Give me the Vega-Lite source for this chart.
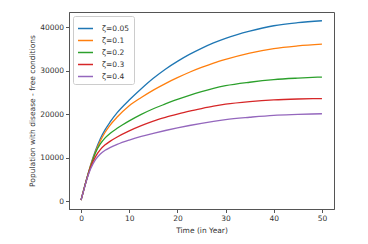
{
  "$schema": "https://vega.github.io/schema/vega-lite/v6.json",
  "width": 265,
  "height": 197,
  "autosize": "none",
  "padding": {"left": 69, "top": 12, "right": 34, "bottom": 35},
  "background": "white",
  "config": {
    "view": {"stroke": "#555", "strokeWidth": 1},
    "font": "DejaVu Sans"
  },
  "data": {"values": [
    {"t":0,"z":"ζ=0.05","y":300},{"t":0.5,"z":"ζ=0.05","y":2400},{"t":1,"z":"ζ=0.05","y":4500},{"t":1.5,"z":"ζ=0.05","y":6500},{"t":2,"z":"ζ=0.05","y":8400},{"t":3,"z":"ζ=0.05","y":11700},{"t":4,"z":"ζ=0.05","y":14400},{"t":5,"z":"ζ=0.05","y":16500},{"t":6,"z":"ζ=0.05","y":18200},{"t":7.5,"z":"ζ=0.05","y":20400},{"t":10,"z":"ζ=0.05","y":23300},{"t":12.5,"z":"ζ=0.05","y":25900},{"t":15,"z":"ζ=0.05","y":28300},{"t":17.5,"z":"ζ=0.05","y":30400},{"t":20,"z":"ζ=0.05","y":32200},{"t":22.5,"z":"ζ=0.05","y":33800},{"t":25,"z":"ζ=0.05","y":35200},{"t":27.5,"z":"ζ=0.05","y":36450},{"t":30,"z":"ζ=0.05","y":37500},{"t":35,"z":"ζ=0.05","y":39150},{"t":40,"z":"ζ=0.05","y":40400},{"t":45,"z":"ζ=0.05","y":41100},{"t":50,"z":"ζ=0.05","y":41550},
    {"t":0,"z":"ζ=0.1","y":300},{"t":0.5,"z":"ζ=0.1","y":2400},{"t":1,"z":"ζ=0.1","y":4480},{"t":1.5,"z":"ζ=0.1","y":6450},{"t":2,"z":"ζ=0.1","y":8300},{"t":3,"z":"ζ=0.1","y":11400},{"t":4,"z":"ζ=0.1","y":13900},{"t":5,"z":"ζ=0.1","y":15900},{"t":6,"z":"ζ=0.1","y":17500},{"t":7.5,"z":"ζ=0.1","y":19400},{"t":10,"z":"ζ=0.1","y":22000},{"t":12.5,"z":"ζ=0.1","y":23900},{"t":15,"z":"ζ=0.1","y":25600},{"t":17.5,"z":"ζ=0.1","y":27100},{"t":20,"z":"ζ=0.1","y":28450},{"t":22.5,"z":"ζ=0.1","y":29700},{"t":25,"z":"ζ=0.1","y":30800},{"t":27.5,"z":"ζ=0.1","y":31800},{"t":30,"z":"ζ=0.1","y":32650},{"t":35,"z":"ζ=0.1","y":34100},{"t":40,"z":"ζ=0.1","y":35150},{"t":45,"z":"ζ=0.1","y":35750},{"t":50,"z":"ζ=0.1","y":36150},
    {"t":0,"z":"ζ=0.2","y":300},{"t":0.5,"z":"ζ=0.2","y":2400},{"t":1,"z":"ζ=0.2","y":4450},{"t":1.5,"z":"ζ=0.2","y":6350},{"t":2,"z":"ζ=0.2","y":8100},{"t":3,"z":"ζ=0.2","y":11200},{"t":4,"z":"ζ=0.2","y":13200},{"t":5,"z":"ζ=0.2","y":14600},{"t":6,"z":"ζ=0.2","y":15600},{"t":7.5,"z":"ζ=0.2","y":16800},{"t":10,"z":"ζ=0.2","y":18500},{"t":12.5,"z":"ζ=0.2","y":20000},{"t":15,"z":"ζ=0.2","y":21300},{"t":17.5,"z":"ζ=0.2","y":22400},{"t":20,"z":"ζ=0.2","y":23450},{"t":22.5,"z":"ζ=0.2","y":24400},{"t":25,"z":"ζ=0.2","y":25250},{"t":27.5,"z":"ζ=0.2","y":26000},{"t":30,"z":"ζ=0.2","y":26600},{"t":35,"z":"ζ=0.2","y":27400},{"t":40,"z":"ζ=0.2","y":28000},{"t":45,"z":"ζ=0.2","y":28350},{"t":50,"z":"ζ=0.2","y":28600},
    {"t":0,"z":"ζ=0.3","y":300},{"t":0.5,"z":"ζ=0.3","y":2350},{"t":1,"z":"ζ=0.3","y":4400},{"t":1.5,"z":"ζ=0.3","y":6250},{"t":2,"z":"ζ=0.3","y":7900},{"t":3,"z":"ζ=0.3","y":10300},{"t":4,"z":"ζ=0.3","y":11900},{"t":5,"z":"ζ=0.3","y":13000},{"t":6,"z":"ζ=0.3","y":13800},{"t":7.5,"z":"ζ=0.3","y":14800},{"t":10,"z":"ζ=0.3","y":16200},{"t":12.5,"z":"ζ=0.3","y":17400},{"t":15,"z":"ζ=0.3","y":18450},{"t":17.5,"z":"ζ=0.3","y":19300},{"t":20,"z":"ζ=0.3","y":20050},{"t":22.5,"z":"ζ=0.3","y":20750},{"t":25,"z":"ζ=0.3","y":21350},{"t":27.5,"z":"ζ=0.3","y":21900},{"t":30,"z":"ζ=0.3","y":22350},{"t":35,"z":"ζ=0.3","y":22950},{"t":40,"z":"ζ=0.3","y":23350},{"t":45,"z":"ζ=0.3","y":23550},{"t":50,"z":"ζ=0.3","y":23650},
    {"t":0,"z":"ζ=0.4","y":300},{"t":0.5,"z":"ζ=0.4","y":2300},{"t":1,"z":"ζ=0.4","y":4300},{"t":1.5,"z":"ζ=0.4","y":6050},{"t":2,"z":"ζ=0.4","y":7500},{"t":3,"z":"ζ=0.4","y":9600},{"t":4,"z":"ζ=0.4","y":10900},{"t":5,"z":"ζ=0.4","y":11750},{"t":6,"z":"ζ=0.4","y":12350},{"t":7.5,"z":"ζ=0.4","y":13100},{"t":10,"z":"ζ=0.4","y":14100},{"t":12.5,"z":"ζ=0.4","y":14950},{"t":15,"z":"ζ=0.4","y":15650},{"t":17.5,"z":"ζ=0.4","y":16300},{"t":20,"z":"ζ=0.4","y":16900},{"t":22.5,"z":"ζ=0.4","y":17450},{"t":25,"z":"ζ=0.4","y":17950},{"t":27.5,"z":"ζ=0.4","y":18400},{"t":30,"z":"ζ=0.4","y":18800},{"t":35,"z":"ζ=0.4","y":19350},{"t":40,"z":"ζ=0.4","y":19800},{"t":45,"z":"ζ=0.4","y":20000},{"t":50,"z":"ζ=0.4","y":20150}
  ]},
  "mark": {"type": "line", "interpolate": "monotone", "strokeWidth": 1.3},
  "encoding": {
    "x": {
      "field": "t", "type": "quantitative",
      "scale": {"domain": [-2.5, 52.5], "nice": false, "zero": false},
      "axis": {
        "title": "Time (in Year)", "values": [0, 10, 20, 30, 40, 50], "grid": false, "format": "d",
        "domainColor": "#555", "tickColor": "#555", "tickSize": 3.5,
        "labelFont": "DejaVu Sans", "labelFontSize": 7.5, "labelColor": "#333", "labelPadding": 2,
        "titleFont": "DejaVu Sans", "titleFontSize": 7.5, "titleFontWeight": "normal", "titleColor": "#333", "titlePadding": 4
      }
    },
    "y": {
      "field": "y", "type": "quantitative",
      "scale": {"domain": [-1760, 43560], "nice": false, "zero": false},
      "axis": {
        "title": "Population with disease - free conditions", "values": [0, 10000, 20000, 30000, 40000], "grid": false, "format": "d",
        "domainColor": "#555", "tickColor": "#555", "tickSize": 3.5,
        "labelFont": "DejaVu Sans", "labelFontSize": 7.5, "labelColor": "#333", "labelPadding": 2,
        "titleFont": "DejaVu Sans", "titleFontSize": 7.5, "titleFontWeight": "normal", "titleColor": "#333", "titlePadding": 3
      }
    },
    "color": {
      "field": "z", "type": "nominal",
      "sort": ["ζ=0.05", "ζ=0.1", "ζ=0.2", "ζ=0.3", "ζ=0.4"],
      "scale": {"domain": ["ζ=0.05", "ζ=0.1", "ζ=0.2", "ζ=0.3", "ζ=0.4"], "range": ["#1f77b4", "#ff7f0e", "#2ca02c", "#d62728", "#9467bd"]},
      "legend": {
        "title": null, "orient": "none", "legendX": 4, "legendY": 4,
        "symbolType": "stroke", "symbolSize": 225, "symbolStrokeWidth": 1.5,
        "labelFont": "DejaVu Sans", "labelFontSize": 7.5, "labelColor": "#333", "labelOffset": 8,
        "rowPadding": 0, "padding": 4, "fillColor": "white", "strokeColor": "#ccc", "cornerRadius": 2
      }
    }
  }
}
